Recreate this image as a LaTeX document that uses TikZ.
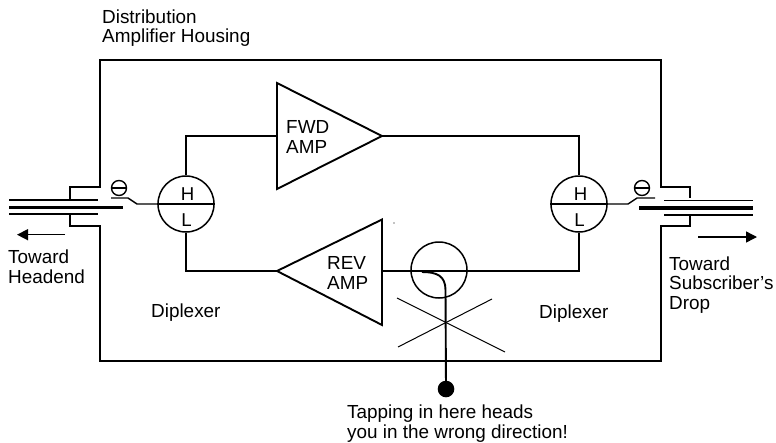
\documentclass[tikz,border=0pt]{standalone}
\usepackage{fontspec}
\setmainfont{Liberation Sans}
\usepackage{tikz}
\usetikzlibrary{
	arrows.meta,
	calc,
	positioning
}
\tikzset{
	wire/.style={line width=1.9pt},
	cable/.style={line width=1.4pt},
	core/.style={line width=3.3pt},
	port/.style={circle, draw, line width=1.5pt, minimum size=56pt, inner sep=0pt},
	sign/.style={circle, draw, line width=1.4pt, minimum size=15pt, inner sep=0pt},
	label/.style={font=\fontsize{18.9}{19.3}\selectfont, align=left, inner sep=0pt, anchor=base west},
	letter/.style={font=\fontsize{18.6}{19.3}\selectfont, inner sep=0pt, anchor=base},
	flow/.style={line width=1.4pt, -{Triangle[length=11pt,width=11pt]}}
}
\begin{document}
\begin{tikzpicture}[x=1pt, y=-1pt]
	\useasboundingbox (0,0) rectangle (776,442);
	% housing
	\draw[wire] (70,199) -- (70,187) -- (100,187) -- (100,60) -- (661,60) -- (661,187) -- (690,187) -- (690,198);
	\draw[wire] (70,215) -- (70,226) -- (100,226) -- (100,361) -- (661,361) -- (661,226) -- (690,226) -- (690,216);
	% cables
	\coordinate (LA) at (9,200);
	\coordinate (LB) at (98,200);
	\coordinate (LC) at (9,214);
	\coordinate (LD) at (98,214);
	\coordinate (RA) at (664,200.5);
	\coordinate (RB) at (753,200.5);
	\coordinate (RC) at (664,215);
	\coordinate (RD) at (753,215);
	\foreach \a/\b in {LA/LB, LC/LD, RA/RB, RC/RD}
	\draw[cable] (\a) -- (\b);
	\coordinate (LE) at (9,207.5);
	\coordinate (LF) at (123,207.5);
	\coordinate (RE) at (639,208);
	\coordinate (RF) at (753,208);
	\draw[core] (LE) -- (LF);
	\draw[core] (RE) -- (RF);
	% diplexers
	\node[port] (dipL) at (186,204) {};
	\node[port] (dipR) at (579,204) {};
	\foreach \d in {dipL, dipR} {
		\draw[line width=1.2pt] (\d.west) -- (\d.east);
		\node[letter] (\d H) at ($(\d.center)+(1.5,-4)$) {H};
		\node[letter] (\d L) at ($(\d.center)+(0.5,22)$) {L};
	}
	% switches
	\node[sign] (signL) at (119,188) {};
	\node[sign] (signR) at (642,188) {};
	\foreach \s in {signL, signR}
	\draw[line width=1.2pt] (\s.west) -- (\s.east);
	\coordinate (swL) at (111,198);
	\coordinate (swR) at (655,198);
	\draw[cable] (swL) -- (128,198) -- (137,204) -- (dipL.west);
	\draw[cable] (swR) -- (637,198) -- (628,204) -- (dipR.east);
	% amplifiers
	\coordinate (FA) at (277,83);
	\coordinate (FB) at (277,189);
	\coordinate (FC) at (382,136);
	\draw[wire] (FA) -- (FC) -- (FB) -- cycle;
	\coordinate (RVA) at (382,219.5);
	\coordinate (RVB) at (382,325);
	\coordinate (RVC) at (277,271);
	\draw[wire] (RVA) -- (RVC) -- (RVB) -- cycle;
	\node[label] (fwd) at (286,153) {FWD\\AMP};
	\node[label] (rev) at (327,289) {REV\\AMP};
	% connections
	\coordinate (FI) at (277,136);
	\coordinate (RO) at (382,271);
	\draw[wire] (dipL.north) |- (FI);
	\draw[wire] (FC) -| (dipR.north);
	\draw[wire] (dipL.south) |- (RVC);
	\draw[wire] (RO) -| (dipR.south);
	% wrong tap
	\node[port] (tap) at (439,270) {};
	\fill (446,389) circle (8.3pt) coordinate (dot);
	\draw[wire] (dot) -- (445.5,290) .. controls (445.5,276) and (437,272) .. (422,272);
	\draw[line width=1pt] (397,298) -- (505,352);
	\draw[line width=1pt] (398,347) -- (492,299);
	\fill (394,223) circle (0.6pt);
	% arrows
	\coordinate (AL) at (65,234.7);
	\coordinate (BL) at (17,234.7);
	\coordinate (AR) at (698,237);
	\coordinate (BR) at (757,237);
	\draw[flow] (AL) -- (BL);
	\draw[flow] (AR) -- (BR);
	% text
	\node[label] (housing) at (102,42.5) {Distribution\\Amplifier Housing};
	\node[label] (headend) at (8,283) {Toward\\Headend};
	\node[label] (drop) at (669,309) {Toward\\Subscriber's\\Drop};
	\node[label] (dipTextL) at (151,317) {Diplexer};
	\node[label] (dipTextR) at (539,318) {Diplexer};
	\node[label] (wrong) at (347,438) {Tapping in here heads\\you in the wrong direction!};
\end{tikzpicture}
\end{document}
